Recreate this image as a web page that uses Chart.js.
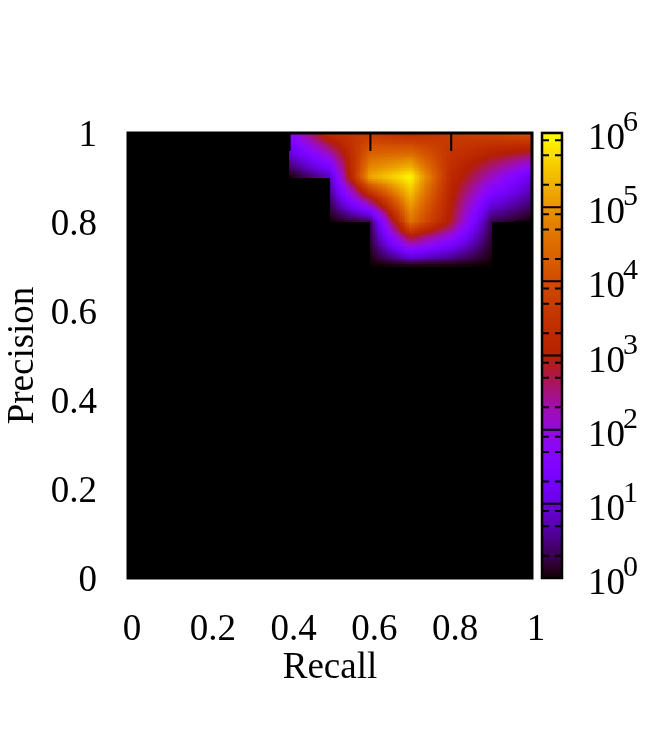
<!DOCTYPE html>
<html>
<head>
<meta charset="utf-8">
<style>html,body{margin:0;padding:0;background:#fff}#wrap{width:658px;height:750px}canvas{display:block}</style>
<script src="https://cdn.jsdelivr.net/npm/chart.js@4"></script>
</head>
<body>
<div id="wrap"><canvas id="c" width="658" height="750"></canvas></div>
<script>
const recallNodes = [0.4, 0.5, 0.6, 0.7, 0.8, 0.9, 1.0];
const precisionNodes = [1.0, 0.9, 0.8, 0.7];
const countsAtP100 = [50, 3000, 4000, 1600, 5000, 8000, 16000];
const countsAtP090 = [1, 6, 160000, 900000, 2000, 150, 12];
const countsAtP080 = [null, 1, 2, 40000, 800, 2, 1];
const countsAtP070 = [null, null, 1, 1, 1, 1, null];
const countRows = [countsAtP100, countsAtP090, countsAtP080, countsAtP070];
const xTickLabels = ['0', '0.2', '0.4', '0.6', '0.8', '1'];
const yTickLabels = ['0', '0.2', '0.4', '0.6', '0.8', '1'];
const cbDecades = [0, 1, 2, 3, 4, 5, 6];
const cbMinorFactors = [2, 5, 8];
const FONT = "'Liberation Serif','Times New Roman',serif";

function palette(lg) {
  const g = Math.max(0, Math.min(1, lg / 6));
  const r = Math.sqrt(g), gr = g * g * g, b = Math.max(0, Math.sin(2 * Math.PI * g));
  return `rgb(${Math.round(r * 255)},${Math.round(gr * 255)},${Math.round(b * 255)})`;
}

const nodePoints = [];
precisionNodes.forEach((p, j) => recallNodes.forEach((r, i) => {
  if (countRows[j][i] !== null) nodePoints.push({ x: r, y: p, v: countRows[j][i] });
}));

const heatmap = {
  id: 'heatmap',
  beforeDatasetsDraw(chart) {
    const { ctx, chartArea: a, scales: { x, y } } = chart;
    ctx.save();
    ctx.fillStyle = '#000';
    ctx.fillRect(a.left, a.top, a.right - a.left, a.bottom - a.top);
    const SUB = 24;
    for (let j = 0; j < precisionNodes.length - 1; j++) {
      for (let i = 0; i < recallNodes.length - 1; i++) {
        const q = [countRows[j][i], countRows[j][i + 1], countRows[j + 1][i], countRows[j + 1][i + 1]];
        if (q.some(v => v === null)) continue;
        const [a0, b0, c0, d0] = q.map(Math.log10);
        for (let s = 0; s < SUB; s++) {
          for (let t = 0; t < SUB; t++) {
            const u = (s + 0.5) / SUB, w = (t + 0.5) / SUB;
            const lg = (1 - w) * ((1 - u) * a0 + u * b0) + w * ((1 - u) * c0 + u * d0);
            const rx = recallNodes[i] + (recallNodes[i + 1] - recallNodes[i]) * s / SUB;
            const rx2 = recallNodes[i] + (recallNodes[i + 1] - recallNodes[i]) * (s + 1) / SUB;
            const py = precisionNodes[j] + (precisionNodes[j + 1] - precisionNodes[j]) * t / SUB;
            const py2 = precisionNodes[j] + (precisionNodes[j + 1] - precisionNodes[j]) * (t + 1) / SUB;
            const px0 = Math.floor(x.getPixelForValue(rx)), px1 = Math.ceil(x.getPixelForValue(rx2));
            const py0 = Math.floor(y.getPixelForValue(py)), py1 = Math.ceil(y.getPixelForValue(py2));
            ctx.fillStyle = palette(lg);
            ctx.fillRect(px0, py0, px1 - px0, py1 - py0);
          }
        }
      }
    }
    ctx.restore();
  },
  afterDatasetsDraw(chart) {
    const { ctx, chartArea: a, scales: { x, y, y2 } } = chart;
    ctx.save();
    ctx.strokeStyle = '#000';
    ctx.lineWidth = 2;
    const TL = 18;
    ctx.beginPath();
    x.ticks.forEach(t => {
      const p = x.getPixelForValue(t.value);
      ctx.moveTo(p, a.top); ctx.lineTo(p, a.top + TL);
      ctx.moveTo(p, a.bottom); ctx.lineTo(p, a.bottom - TL);
    });
    y.ticks.forEach(t => {
      const p = y.getPixelForValue(t.value);
      ctx.moveTo(a.left, p); ctx.lineTo(a.left + TL, p);
      ctx.moveTo(a.right, p); ctx.lineTo(a.right - TL, p);
    });
    ctx.stroke();
    ctx.lineWidth = 3;
    ctx.strokeRect(a.left, a.top, a.right - a.left, a.bottom - a.top);

    // colour bar
    const L = 542, R = 562;
    const STEP = 0.02;
    for (let e = 0; e < 6; e += STEP) {
      const p0 = y2.getPixelForValue(Math.pow(10, e + STEP)), p1 = y2.getPixelForValue(Math.pow(10, e));
      ctx.fillStyle = palette(e + STEP / 2);
      ctx.fillRect(L, Math.floor(p0), R - L, Math.ceil(p1) - Math.floor(p0));
    }
    ctx.lineWidth = 2;
    ctx.beginPath();
    cbDecades.forEach(d => {
      const p = y2.getPixelForValue(Math.pow(10, d));
      ctx.moveTo(L, p); ctx.lineTo(R, p);
      if (d < 6) cbMinorFactors.forEach(f => {
        const m = y2.getPixelForValue(f * Math.pow(10, d));
        ctx.moveTo(L, m); ctx.lineTo(L + 7, m);
        ctx.moveTo(R, m); ctx.lineTo(R - 7, m);
      });
    });
    ctx.stroke();
    ctx.lineWidth = 2.5;
    ctx.strokeRect(L, a.top, R - L, a.bottom - a.top);

    // colour bar labels
    ctx.fillStyle = '#000';
    ctx.textAlign = 'left';
    ctx.textBaseline = 'alphabetic';
    cbDecades.forEach(d => {
      const p = y2.getPixelForValue(Math.pow(10, d));
      ctx.font = `37px ${FONT}`;
      ctx.fillText('10', 588, p + 16);
      ctx.font = `30px ${FONT}`;
      ctx.fillText(String(d), 623, p - 2);
    });
    ctx.restore();
  }
};

new Chart(document.getElementById('c'), {
  type: 'scatter',
  data: { datasets: [{ data: nodePoints, pointRadius: 0, showLine: false, xAxisID: 'x', yAxisID: 'y' }] },
  plugins: [heatmap],
  options: {
    responsive: false,
    animation: false,
    layout: { padding: { top: 133, left: 0, right: 0, bottom: 0 } },
    plugins: { legend: { display: false }, tooltip: { enabled: false } },
    scales: {
      x: {
        type: 'linear', min: 0, max: 1, position: 'bottom',
        afterFit(s) { s.height = 172; },
        grid: { display: false },
        border: { display: false },
        ticks: {
          stepSize: 0.2, autoSkip: false, maxRotation: 0, padding: 22, labelOffset: 4, color: '#000',
          font: { family: FONT, size: 37 },
          callback: (v, i) => xTickLabels[i]
        },
        title: { display: true, text: 'Recall', color: '#000', font: { family: FONT, size: 37 }, padding: { top: 0, bottom: 60 } }
      },
      y: {
        type: 'linear', min: 0, max: 1, position: 'left',
        afterFit(s) { s.width = 128; },
        grid: { display: false },
        border: { display: false },
        ticks: {
          stepSize: 0.2, autoSkip: false, padding: 23, labelOffset: 3, color: '#000',
          font: { family: FONT, size: 37 },
          callback: (v, i) => yTickLabels[i]
        },
        title: { display: true, text: 'Precision', color: '#000', font: { family: FONT, size: 37 }, padding: { top: 1, bottom: 0 } }
      },
      y2: {
        type: 'logarithmic', min: 1, max: 1000000, position: 'right',
        afterFit(s) { s.width = 126; },
        grid: { display: false },
        border: { display: false },
        ticks: { display: false }
      }
    }
  }
});
</script>
</body>
</html>
